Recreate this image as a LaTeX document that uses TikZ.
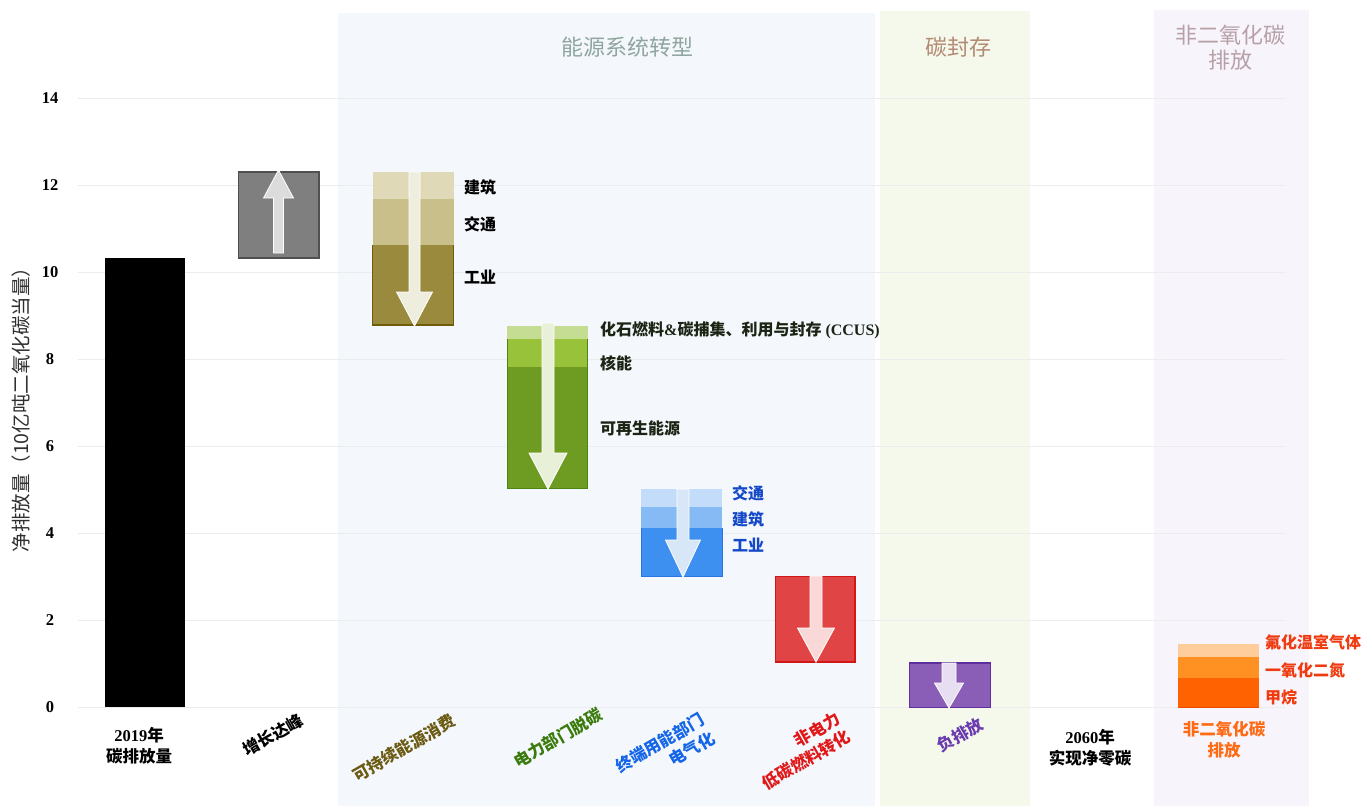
\documentclass[tikz,border=0pt]{standalone}
\usepackage{fontspec}
\setmainfont{Liberation Serif}
\newfontfamily\cjk{Noto Sans CJK SC}
\newcommand\lt[1]{{\rmfamily\bfseries #1}}
\newcommand\darr[7]{\filldraw[#7] (#1-#2,#4) -- (#1+#2,#4) -- (#1+#2,#5) -- (#1+#3,#5) -- (#1,#6) -- (#1-#3,#5) -- (#1-#2,#5) -- cycle;}
\definecolor{bandblue}{HTML}{F4F8FD}
\definecolor{bandgreen}{HTML}{F4F9EB}
\definecolor{bandpurple}{HTML}{F7F5FB}
\definecolor{gridc}{HTML}{ECECEC}
\definecolor{hdrA}{HTML}{8FA59D}
\definecolor{hdrB}{HTML}{B48A74}
\definecolor{hdrC}{HTML}{B8A0A8}
\definecolor{olA}{HTML}{E0D9B8}
\definecolor{olB}{HTML}{C9BF8A}
\definecolor{olC}{HTML}{9A8A3E}
\definecolor{olD}{HTML}{6E5C08}
\definecolor{grA}{HTML}{C4DD92}
\definecolor{grB}{HTML}{98C23A}
\definecolor{grC}{HTML}{6E9B22}
\definecolor{grD}{HTML}{4E8412}
\definecolor{blA}{HTML}{C2DCFA}
\definecolor{blB}{HTML}{85BAF5}
\definecolor{blC}{HTML}{3D8FF0}
\definecolor{blD}{HTML}{2876E6}
\definecolor{rdA}{HTML}{E04444}
\definecolor{rdD}{HTML}{D01818}
\definecolor{puA}{HTML}{8A5DB6}
\definecolor{puD}{HTML}{5E2E9E}
\definecolor{orA}{HTML}{FFCC9C}
\definecolor{orB}{HTML}{FF9022}
\definecolor{orC}{HTML}{FF6200}
\definecolor{orD}{HTML}{F04800}
\definecolor{txOl}{HTML}{6B5A12}
\definecolor{txGr}{HTML}{3B7A0C}
\definecolor{txBl}{HTML}{1565E8}
\definecolor{txBl2}{HTML}{1448C8}
\definecolor{txRd}{HTML}{E01818}
\definecolor{txPu}{HTML}{6A3AAE}
\definecolor{txOr}{HTML}{FF6A14}
\definecolor{txOr2}{HTML}{F03A10}
\definecolor{txDk}{HTML}{1C2414}
\begin{document}
\begin{tikzpicture}[x=1pt,y=-1pt,
  hdr/.style={font=\cjk\fontsize{22}{26}\selectfont, align=center, inner sep=0pt},
  tick/.style={font=\rmfamily\bfseries\fontsize{16.5}{18}\selectfont, inner sep=0pt},
  cat/.style={font=\cjk\bfseries\fontsize{16.5}{21}\selectfont, align=center, inner sep=0pt},
  rcat/.style={cat, rotate=30},
  side/.style={font=\cjk\bfseries\fontsize{16}{18}\selectfont, anchor=west, inner sep=0pt},
  gridline/.style={draw=gridc, line width=1pt},
  arrowfill/.style={draw=white, line width=0.8pt}
]
\useasboundingbox (0,0) rectangle (1364,806);
\fill[white] (0,0) rectangle (1364,806);
% bands
\fill[bandblue] (338,13) rectangle (875,806);
\fill[bandgreen] (880,11) rectangle (1030,806);
\fill[bandpurple] (1154,10) rectangle (1309,806);
% headers
\node[hdr, text=hdrA] (h1) at (627,47) {能源系统转型};
\node[hdr, text=hdrB] (h2) at (958,47) {碳封存};
\node[hdr, text=hdrC] (h3) at (1230,48) {非二氧化碳\\[-1pt]排放};
% grid and ticks
\foreach \v in {0,2,...,14}{
  \draw[gridline] (78,{707-43.5*\v}) -- (1286,{707-43.5*\v});
  \node[tick] (t\v) at (50,{707-43.5*\v}) {\v};
}
% y label
\node[font=\cjk\fontsize{19.5}{21}\selectfont, text={rgb,255:red,48;green,48;blue,48}, rotate=90, inner sep=0pt] (ylab) at (21,405) {净排放量（10亿吨二氧化碳当量）};
% 2019 bar
\fill[black] (105,258) rectangle (185,707);
% growth bar
\filldraw[fill={rgb,255:red,127;green,127;blue,127}, draw={rgb,255:red,80;green,80;blue,80}, line width=1.2pt] (238.5,172) rectangle (319,258);
\filldraw[fill={rgb,255:red,220;green,220;blue,220}, arrowfill] (273.5,253) -- (283.5,253) -- (283.5,198) -- (293.5,198) -- (278.5,170) -- (263.5,198) -- (273.5,198) -- cycle;
% olive bar
\fill[olA] (372.5,172) rectangle (453.5,199);
\fill[olB] (372.5,199) rectangle (453.5,245);
\fill[olC] (372.5,245) rectangle (453.5,326);
\draw[olD, line width=0.8pt] (372.5,245) -- (372.5,326) (453.5,245) -- (453.5,326);
\draw[olD, line width=2pt] (372.5,325) -- (453.5,325);
\darr{414.5}{5.5}{18}{172}{292}{326}{fill={rgb,255:red,239;green,237;blue,221}, arrowfill}
% green bar
\fill[grA] (507,326) rectangle (587.5,339);
\fill[grB] (507,339) rectangle (587.5,367);
\fill[grC] (507,367) rectangle (587.5,489);
\draw[grD, line width=0.8pt] (507,339) -- (507,489) (587.5,339) -- (587.5,489);
\draw[grD, line width=1.6pt] (507,488.5) -- (587.5,488.5);
\darr{548}{6}{19}{323}{453}{489}{fill={rgb,255:red,232;green,240;blue,216}, arrowfill}
% blue bar
\fill[blA] (641,489) rectangle (722,507);
\fill[blB] (641,507) rectangle (722,528);
\fill[blC] (641,528) rectangle (722,577);
\draw[blD, line width=0.8pt] (641,528) -- (641,577) (722,528) -- (722,577);
\draw[blD, line width=1.6pt] (641,576.5) -- (722,576.5);
\darr{683}{6}{17.5}{489}{540}{577}{fill={rgb,255:red,216;green,231;blue,248}, arrowfill}
% red bar
\filldraw[fill=rdA, draw=rdD, line width=1.4pt] (775.5,576.5) rectangle (855,662);
\darr{816}{6}{18.5}{576}{628}{662}{fill={rgb,255:red,250;green,216;blue,216}, arrowfill}
% purple bar
\filldraw[fill=puA, draw=puD, line width=1.4pt] (909.5,663) rectangle (990.5,707.5);
\darr{949}{7}{14.5}{663}{683}{708}{fill={rgb,255:red,232;green,222;blue,242}, arrowfill}
% orange bar
\fill[orA] (1178,644) rectangle (1259,657);
\fill[orB] (1178,657) rectangle (1259,678);
\fill[orC] (1178,678) rectangle (1259,708);
\draw[orD, line width=1.4pt] (1178,707.3) -- (1259,707.3);
% side labels
\node[side, text=black] (o1) at (464,187) {建筑};
\node[side, text=black] (o2) at (464,224) {交通};
\node[side, text=black] (o3) at (464,277) {工业};
\node[side, text=txDk] (g1) at (600,330) {化石燃料\lt{\&}碳捕集、利用与封存\lt{ (CCUS)}};
\node[side, text=txDk] (g2) at (600,363) {核能};
\node[side, text=txDk] (g3) at (600,428) {可再生能源};
\node[side, text=txBl2] (b1) at (732,493) {交通};
\node[side, text=txBl2] (b2) at (732,519) {建筑};
\node[side, text=txBl2] (b3) at (732,545) {工业};
\node[side, text=txOr2] (r1) at (1265,642) {氟化温室气体};
\node[side, text=txOr2] (r2) at (1265,670) {一氧化二氮};
\node[side, text=txOr2] (r3) at (1265,697) {甲烷};
% category labels
\node[cat, text=black] (c1) at (139,746) {\lt{2019}年\\碳排放量};
\node[rcat, text=black] (c2) at (273,735) {增长达峰};
\node[rcat, text=txOl] (c3) at (404,748) {可持续能源消费};
\node[rcat, text=txGr] (c4) at (558,738) {电力部门脱碳};
\node[rcat, text=txBl, align=right] (c5) at (665,752) {终端用能部门\\电气化};
\node[rcat, text=txRd, align=right] (c6) at (801,751) {非电力\\低碳燃料转化};
\node[rcat, text=txPu] (c7) at (960,735) {负排放};
\node[cat, text=black] (c8) at (1090,748) {\lt{2060}年\\实现净零碳};
\node[cat, text=txOr] (c9) at (1224,740) {非二氧化碳\\排放};
\end{tikzpicture}
\end{document}
